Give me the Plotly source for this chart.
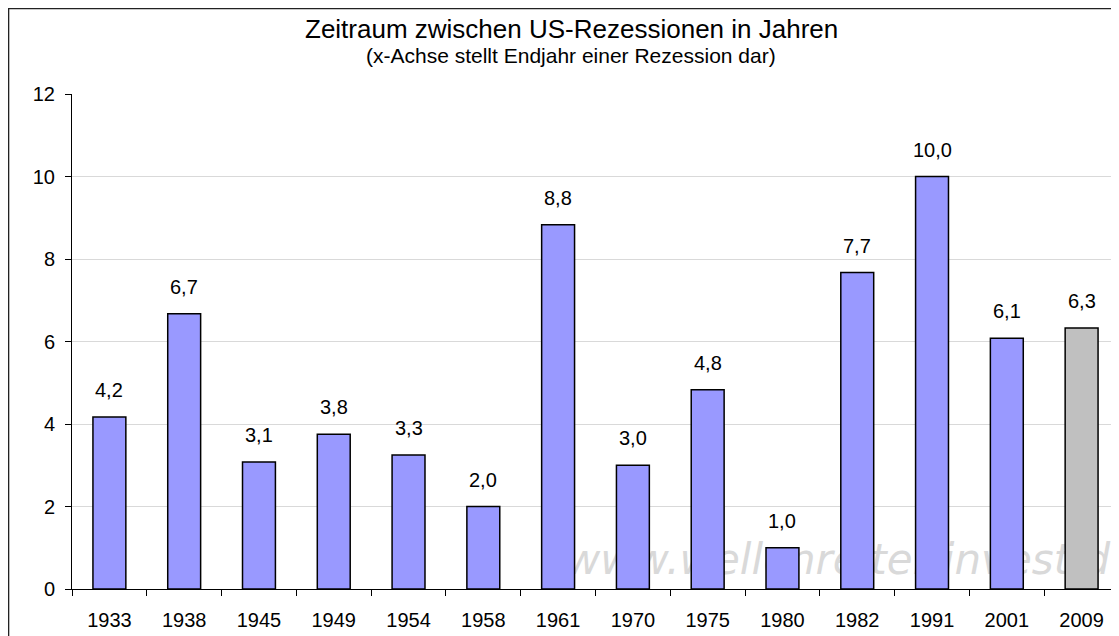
import plotly.graph_objects as go
from decimal import Decimal, ROUND_HALF_UP

# Data
years = ["1933", "1938", "1945", "1949", "1954", "1958", "1961",
         "1970", "1975", "1980", "1982", "1991", "2001", "2009"]
years_between = [4.17, 6.67, 3.08, 3.75, 3.25, 2.0, 8.83,
                 3.0, 4.83, 1.0, 7.67, 10.0, 6.08, 6.33]
bar_colors = ["#9999FF"] * 13 + ["#C0C0C0"]

FONT = "Liberation Sans, Arial, sans-serif"


def de_label(v):
    # one decimal, German comma
    return str(Decimal(str(v)).quantize(Decimal("0.1"), rounding=ROUND_HALF_UP)).replace(".", ",")


fig = go.Figure()

fig.add_trace(go.Bar(
    x=years,
    y=years_between,
    marker=dict(color=bar_colors, line=dict(color="black", width=1.5)),
    hovertemplate="%{x}: %{y:.1f}<extra></extra>",
    showlegend=False
))

# value labels above the bars (x = category index on the category axis)
for i, v in enumerate(years_between):
    fig.add_annotation(x=i, y=v, text=de_label(v), showarrow=False,
                       yanchor="bottom", yshift=14,
                       font=dict(family=FONT, size=20, color="black"))

# title + subtitle
fig.add_annotation(xref="paper", yref="paper", x=0.4766, y=1.131,
                   text="Zeitraum zwischen US-Rezessionen in Jahren",
                   showarrow=False, xanchor="center", yanchor="middle",
                   font=dict(family=FONT, size=26, color="black"))
fig.add_annotation(xref="paper", yref="paper", x=0.4766, y=1.077,
                   text="(x-Achse stellt Endjahr einer Rezession dar)",
                   showarrow=False, xanchor="center", yanchor="middle",
                   font=dict(family=FONT, size=21, color="black"))

# watermark (behind the bars) and outer chart frame
fig.add_shape(type="rect", xref="paper", yref="paper",
              x0=0.466, x1=1.0, y0=0.02, y1=0.11,
              line=dict(width=0), fillcolor="rgba(0,0,0,0)", layer="below",
              label=dict(text="www.wellenreiter-invest.de", textposition="middle left",
                         font=dict(family="DejaVu Sans", size=42, color="#d9d9d9",
                                   style="italic")))
fig.add_shape(type="rect", xref="paper", yref="paper",
              x0=-0.0605, x1=1.01, y0=-0.2, y1=1.1723,
              line=dict(color="#222222", width=1.3), fillcolor="rgba(0,0,0,0)",
              layer="above")

fig.update_layout(
    width=1119, height=636, autosize=False,
    margin=dict(l=64, r=8, t=86, b=55, pad=0),
    paper_bgcolor="white", plot_bgcolor="rgba(0,0,0,0)",
    bargap=0.56,
    font=dict(family=FONT, size=20, color="black"),
    xaxis=dict(type="category", range=[-0.5, 13.5], tickson="boundaries",
               ticks="outside", ticklen=6, tickcolor="black",
               showline=True, linecolor="black", linewidth=1,
               showgrid=False, ticklabelstandoff=13,
               tickfont=dict(family=FONT, size=20, color="black")),
    yaxis=dict(range=[0, 12], dtick=2, ticks="outside", ticklen=6, tickcolor="black",
               showline=True, linecolor="black", linewidth=1,
               showgrid=True, gridcolor="#d9d9d9", gridwidth=1, zeroline=False,
               ticklabelstandoff=6,
               tickfont=dict(family=FONT, size=20, color="black")),
)

fig.write_html("out.html")
